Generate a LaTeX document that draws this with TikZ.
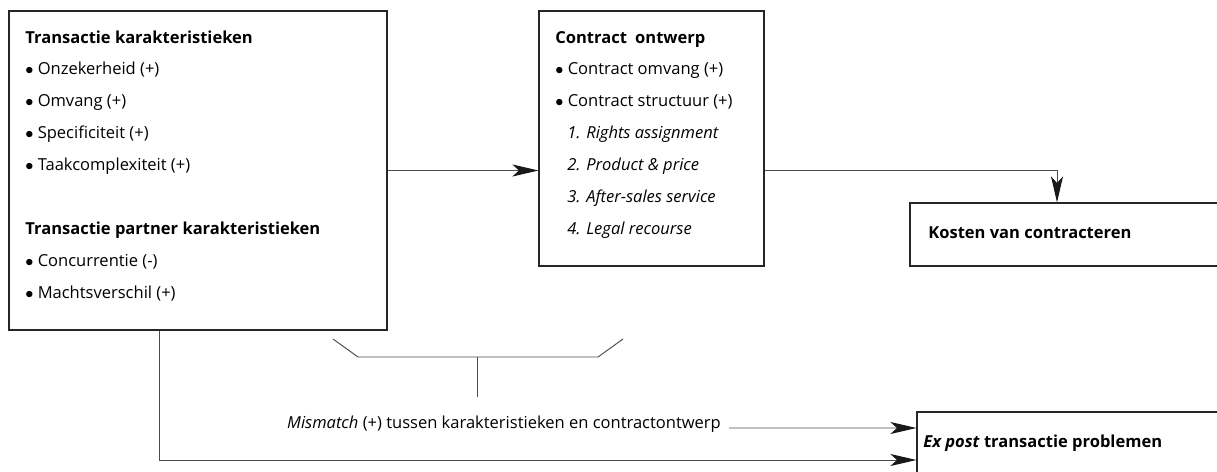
\documentclass[tikz,border=0pt]{standalone}
\usepackage{fontspec}
\setmainfont{Open Sans}
\usetikzlibrary{arrows.meta}

\begin{document}
\begin{tikzpicture}[x=0.2mm, y=-0.2mm,
        kader/.style={draw=black!85, line width=0.65pt, inner sep=0pt},
        tekst/.style={anchor=base west, inner sep=0pt, font=\fontsize{9.4}{18.2}\selectfont},
        lijn/.style={draw=black!70, line width=0.55pt},
        pijl/.style={lijn, -{Stealth[length=5.2mm, width=2.4mm, inset=1.3mm, color=black!90]}}]
            \useasboundingbox (0, 0) rectangle (1217, 471);

            \node[kader, minimum width=75.6mm, minimum height=63.8mm] (kenmerken) at (198, 170.5) {};
            \node[kader, minimum width=45mm, minimum height=51mm] (ontwerp) at (651.5, 138.5) {};
            \node[kader, minimum width=66mm, minimum height=12.6mm] (kosten) at (1075, 234.5) {};
            \node[kader, minimum width=64.6mm, minimum height=15.6mm] (expost) at (1078.5, 451) {};

            \node[tekst] (kenmerkentekst) at (25, 43) {\parbox[t]{72mm}{%
                \textbf{Transactie karakteristieken}\\
                $\bullet$ Onzekerheid (+)\\
                $\bullet$ Omvang (+)\\
                $\bullet$ Specificiteit (+)\\
                $\bullet$ Taakcomplexiteit (+)\\[18.2pt]
                \textbf{Transactie partner karakteristieken}\\
                $\bullet$ Concurrentie (-)\\
                $\bullet$ Machtsverschil (+)}};

            \node[tekst] (ontwerptekst) at (555, 43) {\parbox[t]{42mm}{%
                \textbf{Contract\enspace ontwerp}\\
                $\bullet$ Contract omvang (+)\\
                $\bullet$ Contract structuur (+)\\
                \hspace*{2.4mm}\textit{1. Rights assignment}\\
                \hspace*{2.4mm}\textit{2. Product \& price}\\
                \hspace*{2.4mm}\textit{3. After-sales service}\\
                \hspace*{2.4mm}\textit{4. Legal recourse}}};

            \node[tekst] (kostentekst) at (928, 238) {\textbf{Kosten van contracteren}};
            \node[tekst] (exposttekst) at (923, 447) {\textbf{\textit{Ex post} transactie problemen}};

            \node[tekst, anchor=base] (mismatch) at (504, 428) {\textit{Mismatch} (+) tussen karakteristieken en contractontwerp};

            \draw[pijl] (kenmerken.east) -- (kenmerken.east -| ontwerp.west);
            \draw[pijl] (ontwerp.east |- kenmerken.east) -| ([xshift=-3.6mm]kosten.north);

            \draw[lijn] (333, 339) -- (358, 357) -- (598, 357) -- (623, 339);
            \draw[lijn] (477, 357) -- (477, 397);

            \draw[pijl] ([xshift=1.6mm]mismatch.base east) -- ([yshift=4.6mm]expost.west);
            \draw[pijl] (kenmerken.south west) ++(151, 0) |- ([yshift=-1.8mm]expost.west);
        \end{tikzpicture}
\end{document}
